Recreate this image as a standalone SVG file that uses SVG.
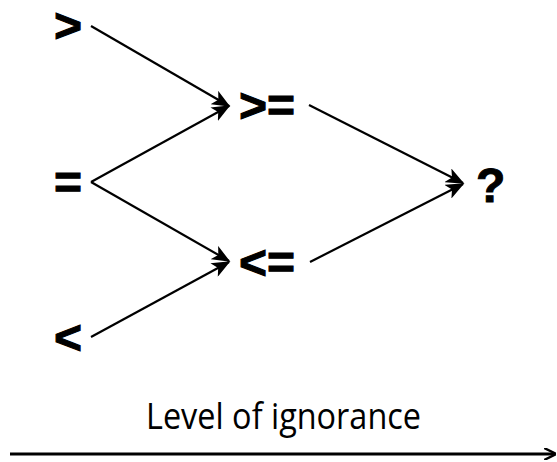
<svg xmlns="http://www.w3.org/2000/svg" width="557" height="462" viewBox="0 0 557 462">
<style>
.sym{font-family:"Liberation Sans",Arial,sans-serif;font-weight:bold;font-size:48px;fill:#000;stroke:#000;stroke-width:1}
.lbl{font-family:"Open Sans","Liberation Sans",sans-serif;font-size:37px;fill:#000}
.c{stroke:#000;stroke-width:2.2;fill:none}
</style>
<defs>
<marker id="ah" viewBox="0 0 12 10" refX="11" refY="5" markerWidth="8.5" markerHeight="7" markerUnits="strokeWidth" orient="auto">
<path d="M0,0 L12,5 L0,10 L3,5 Z" fill="#000"/>
</marker>
<marker id="ah2" viewBox="0 0 10 10" refX="9" refY="5" markerWidth="4" markerHeight="4" markerUnits="strokeWidth" orient="auto">
<path d="M0,0 L10,5 L0,10" fill="none" stroke="#000" stroke-width="2"/>
</marker>
</defs>
<g id="n-gt"><text class="sym" x="54" y="42">&gt;</text></g>
<g id="n-eq"><text class="sym" x="54" y="199">=</text></g>
<g id="n-lt"><text class="sym" x="54" y="354">&lt;</text></g>
<g id="n-ge"><text class="sym" x="239" y="122">&gt;=</text></g>
<g id="n-le"><text class="sym" x="239" y="279">&lt;=</text></g>
<g id="n-q"><text class="sym" x="476" y="202">?</text></g>
<g id="connectors">
<line class="c" x1="91" y1="26" x2="229" y2="106" marker-end="url(#ah)"/>
<line class="c" x1="91" y1="182" x2="229" y2="106" marker-end="url(#ah)"/>
<line class="c" x1="91" y1="182" x2="229" y2="261" marker-end="url(#ah)"/>
<line class="c" x1="91" y1="337" x2="229" y2="262" marker-end="url(#ah)"/>
<line class="c" x1="309" y1="105" x2="463" y2="183" marker-end="url(#ah)"/>
<line class="c" x1="310" y1="262" x2="463" y2="184" marker-end="url(#ah)"/>
</g>
<g id="axis">
<text class="lbl" x="146" y="429" textLength="275" lengthAdjust="spacingAndGlyphs">Level of ignorance</text>
<line x1="10" y1="454" x2="555" y2="454" stroke="#000" stroke-width="3" marker-end="url(#ah2)"/>
</g>
</svg>
